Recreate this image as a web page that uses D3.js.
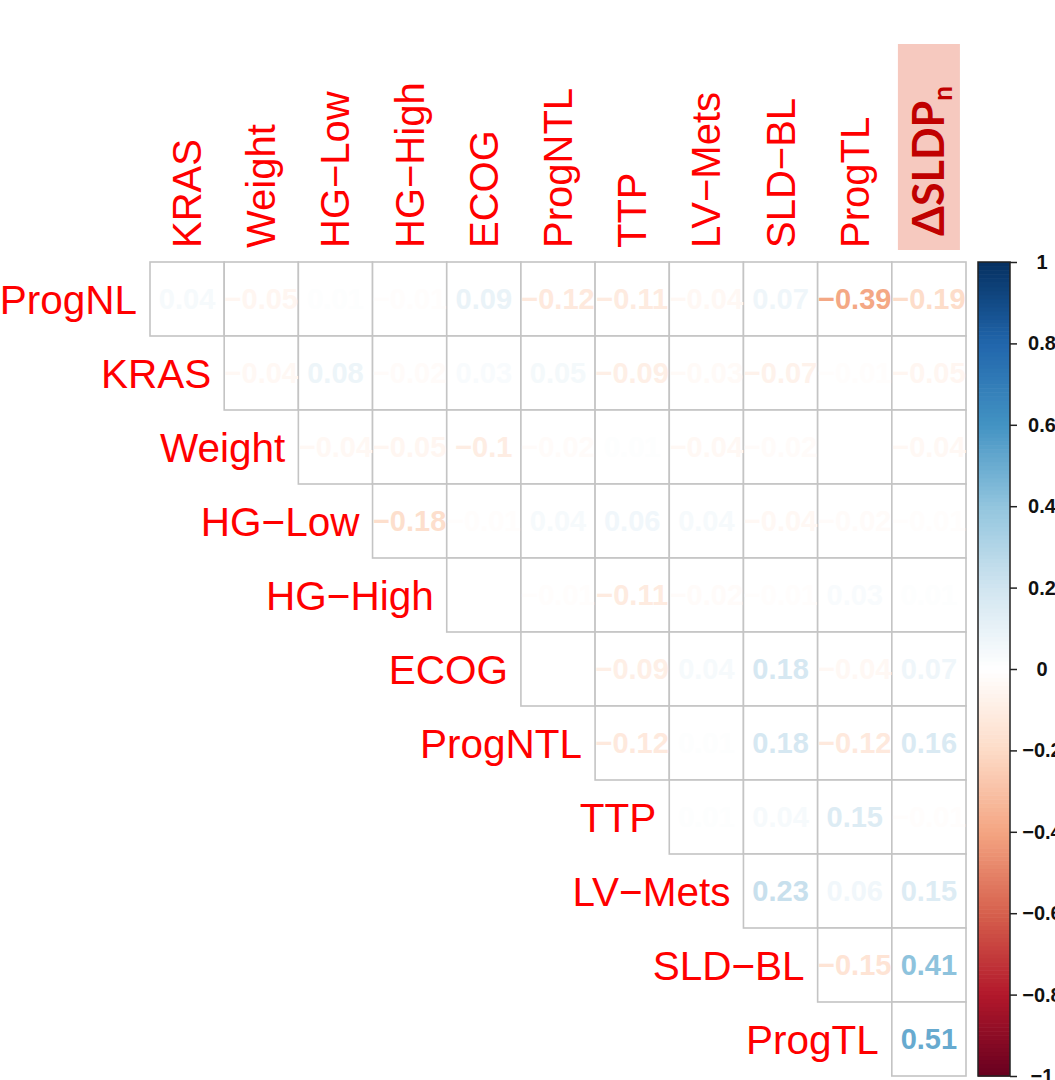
<!DOCTYPE html>
<html>
<head>
<meta charset="utf-8">
<script src="https://cdn.jsdelivr.net/npm/d3@7"></script>
<style>
  html, body { margin: 0; padding: 0; background: #fff; }
  svg { display: block; }
</style>
</head>
<body>
<div id="chart"></div>
<script>
// Variable names (rows run down the left, columns across the top)
const rowLabels = ["ProgNL", "KRAS", "Weight", "HG\u2212Low", "HG\u2212High", "ECOG",
                   "ProgNTL", "TTP", "LV\u2212Mets", "SLD\u2212BL", "ProgTL"];
const colLabels = ["KRAS", "Weight", "HG\u2212Low", "HG\u2212High", "ECOG", "ProgNTL",
                   "TTP", "LV\u2212Mets", "SLD\u2212BL", "ProgTL", "dSLDPn"];

// Correlation coefficients, upper triangle: row i holds columns i..10
const corrProgNL  = [0.04, -0.05, 0.01, -0.01, 0.09, -0.12, -0.11, -0.04, 0.07, -0.39, -0.19];
const corrKRAS    = [-0.04, 0.08, -0.02, 0.03, 0.05, -0.09, -0.03, -0.07, -0.01, -0.05];
const corrWeight  = [-0.04, -0.05, -0.1, -0.02, 0.01, -0.04, -0.02, 0, -0.04];
const corrHGLow   = [-0.18, -0.01, 0.04, 0.06, 0.04, -0.04, -0.02, -0.01];
const corrHGHigh  = [0, -0.01, -0.11, -0.02, -0.01, 0.03, 0.01];
const corrECOG    = [0, -0.09, 0.04, 0.18, -0.04, 0.07];
const corrProgNTL = [-0.12, 0.01, 0.18, -0.12, 0.16];
const corrTTP     = [0.01, 0.04, 0.15, -0.01];
const corrLVMets  = [0.23, 0.06, 0.15];
const corrSLDBL   = [-0.15, 0.41];
const corrProgTL  = [0.51];

// Colour legend ticks
const legendTicks = [1, 0.8, 0.6, 0.4, 0.2, 0, -0.2, -0.4, -0.6, -0.8, -1];

// Diverging red-blue palette, -1 .. 1
const paletteStops = [-1, -0.8, -0.6, -0.4, -0.2, 0, 0.2, 0.4, 0.6, 0.8, 1];
const paletteColors = ["#67001F", "#B2182B", "#D6604D", "#F4A582", "#FDDBC7", "#FFFFFF",
                       "#D1E5F0", "#92C5DE", "#4393C3", "#2166AC", "#053061"];

const rowsData = [corrProgNL, corrKRAS, corrWeight, corrHGLow, corrHGHigh, corrECOG,
                  corrProgNTL, corrTTP, corrLVMets, corrSLDBL, corrProgTL];

const cells = [];
rowsData.forEach((vals, i) => {
  vals.forEach((v, k) => {
    cells.push({ row: rowLabels[i], col: colLabels[i + k], value: v });
  });
});

const W = 1055, H = 1080;
const svg = d3.select("#chart").append("svg")
  .attr("width", W).attr("height", H)
  .style("background", "#fff");

const x = d3.scaleBand().domain(colLabels).range([150, 966]);
const y = d3.scaleBand().domain(rowLabels).range([262, 1076]);
const color = d3.scaleLinear().domain(paletteStops).range(paletteColors)
  .interpolate(d3.interpolateRgb).clamp(true);

const fmt = v => String(v).replace("-", "\u2212");

// Grid cells
const g = svg.append("g");
g.selectAll("rect.cell").data(cells).join("rect")
  .attr("class", "cell")
  .attr("x", d => x(d.col))
  .attr("y", d => y(d.row))
  .attr("width", x.bandwidth())
  .attr("height", y.bandwidth())
  .attr("fill", "#fff")
  .attr("stroke", "#c4c4c4")
  .attr("stroke-width", 1.6);

// Coefficient labels, coloured by value
g.selectAll("text.num").data(cells).join("text")
  .attr("class", "num")
  .attr("x", d => x(d.col) + x.bandwidth() / 2)
  .attr("y", d => y(d.row) + y.bandwidth() / 2)
  .attr("dy", "0.36em")
  .attr("text-anchor", "middle")
  .attr("font-family", "'Liberation Sans', Arial, sans-serif")
  .attr("font-weight", "bold")
  .attr("font-size", 29)
  .attr("fill", d => color(d.value))
  .text(d => fmt(d.value));

// Row labels, right-aligned against the first cell of each row
svg.append("g").selectAll("text").data(rowLabels).join("text")
  .attr("x", (d, i) => x(colLabels[i]) - 13)
  .attr("y", d => y(d) + y.bandwidth() / 2)
  .attr("dy", "0.36em")
  .attr("text-anchor", "end")
  .attr("font-family", "'Liberation Sans', Arial, sans-serif")
  .attr("font-size", 40.5)
  .attr("fill", "#FF0000")
  .text(d => d);

// Column labels, rotated
const colText = colLabels.slice(0, 10);
svg.append("g").selectAll("text").data(colText).join("text")
  .attr("transform", d => `translate(${x(d) + x.bandwidth() / 2 + 14},248) rotate(-90)`)
  .attr("text-anchor", "start")
  .attr("font-family", "'Liberation Sans', Arial, sans-serif")
  .attr("font-size", 40)
  .attr("fill", "#FF0000")
  .text(d => d);

// Highlighted outcome column header
const lastCol = colLabels[10];
const cx = x(lastCol) + x.bandwidth() / 2;
svg.append("rect")
  .attr("x", cx - 31).attr("y", 44)
  .attr("width", 62).attr("height", 206)
  .attr("fill", "#F6C9BF");
const hdr = svg.append("text")
  .attr("transform", `translate(${cx + 15},236) rotate(-90)`)
  .attr("text-anchor", "start")
  .attr("font-family", "Lato, 'Open Sans', sans-serif")
  .attr("font-weight", "bold")
  .attr("font-size", 43)
  .attr("fill", "#C00000");
hdr.append("tspan").text("\u0394SLDP");
hdr.append("tspan").attr("font-size", 26).attr("dy", 8).text("n");

// Colour legend
const lx0 = 978, lx1 = 1010;
const ly = d3.scaleLinear().domain([-1, 1]).range([1076, 262]);
const steps = d3.range(-1, 1, 0.01);
svg.append("g").selectAll("rect").data(steps).join("rect")
  .attr("x", lx0)
  .attr("y", d => ly(d + 0.01))
  .attr("width", lx1 - lx0)
  .attr("height", Math.abs(ly(0) - ly(0.01)) + 0.6)
  .attr("fill", d => color(d + 0.005));
svg.append("rect")
  .attr("x", lx0).attr("y", ly(1))
  .attr("width", lx1 - lx0).attr("height", ly(-1) - ly(1))
  .attr("fill", "none").attr("stroke", "#222").attr("stroke-width", 1.5);

const axis = d3.axisRight(ly).tickValues(legendTicks).tickSize(7).tickSizeOuter(0)
  .tickFormat(d => fmt(d));
const ag = svg.append("g").attr("transform", `translate(${lx1},0)`).call(axis);
ag.select(".domain").remove();
ag.selectAll(".tick line").attr("stroke", "#222").attr("stroke-width", 1.5);
ag.selectAll(".tick text")
  .attr("x", 32)
  .attr("text-anchor", "middle")
  .attr("font-family", "'Liberation Sans', Arial, sans-serif")
  .attr("font-weight", "bold")
  .attr("font-size", 20)
  .attr("fill", "#111");
</script>
</body>
</html>
